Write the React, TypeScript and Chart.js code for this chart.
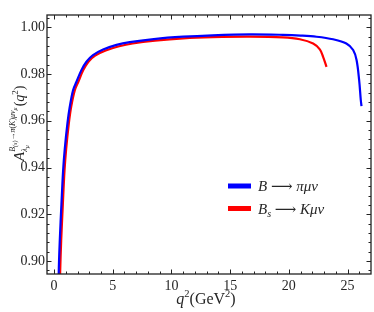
import React, { useEffect, useRef } from "react";
import { Chart, registerables } from "chart.js";
Chart.register(...registerables);

// B -> pi mu nu
const qBpi = [0.30, 0.40, 0.49, 0.63, 0.77, 0.91, 1.14, 1.34, 1.62, 1.91, 2.33, 2.76, 3.32, 4.18, 5.32, 6.45, 8.5, 11.0, 13.5, 16.67, 19.5, 21.0, 22.36, 23.77, 24.9, 25.48, 25.77, 25.99, 26.13, 26.19];
const aBpi = [0.855, 0.895, 0.9089, 0.9243, 0.9385, 0.9478, 0.9589, 0.966, 0.9731, 0.9767, 0.9817, 0.9853, 0.9881, 0.9905, 0.9925, 0.9937, 0.995, 0.996, 0.9966, 0.997, 0.9968, 0.9965, 0.996, 0.9949, 0.9931, 0.9903, 0.986, 0.9774, 0.9689, 0.9663];
// Bs -> K mu nu
const qBsK = [0.42, 0.52, 0.61, 0.75, 0.89, 1.03, 1.26, 1.46, 1.77, 2.07, 2.49, 2.93, 3.5, 4.4, 5.55, 6.7, 8.6, 11.0, 13.5, 16.67, 19.5, 20.94, 22.07, 22.64, 22.92, 23.21];
const aBsK = [0.87, 0.895, 0.9089, 0.9243, 0.9385, 0.9478, 0.9589, 0.966, 0.9731, 0.9767, 0.9817, 0.9853, 0.9879, 0.9901, 0.9919, 0.9931, 0.9943, 0.9953, 0.9958, 0.996, 0.9957, 0.9949, 0.9931, 0.9906, 0.9874, 0.9831];

const xTicks = [0, 5, 10, 15, 20, 25];
const yTicks = [0.90, 0.92, 0.94, 0.96, 0.98, 1.00];
const legendLabels = ["B → πμν", "Bs → Kμν"];
const colors = ["#0000ff", "#ff0000"];

const FAMILY = "'Liberation Serif', 'DejaVu Serif', serif";
const TEXT = "#262626";

type Piece = { t: string; size: number; italic?: boolean; dy?: number };

function drawPieces(ctx: CanvasRenderingContext2D, pieces: Piece[], x0: number, base: number): number {
  let x = x0;
  for (const p of pieces) {
    ctx.font = `${p.italic ? "italic " : ""}${p.size}px ${FAMILY}`;
    ctx.fillText(p.t, x, base + (p.dy || 0));
    x += ctx.measureText(p.t).width;
  }
  return x;
}
function widthPieces(ctx: CanvasRenderingContext2D, pieces: Piece[]): number {
  let w = 0;
  for (const p of pieces) {
    ctx.font = `${p.italic ? "italic " : ""}${p.size}px ${FAMILY}`;
    w += ctx.measureText(p.t).width;
  }
  return w;
}

const framePlugin = {
  id: "frame",
  afterDraw(chart: any) {
    const { ctx, chartArea, scales } = chart;
    const { left, right, top, bottom } = chartArea;
    const xs = scales.x;
    const ys = scales.y;
    ctx.save();
    ctx.strokeStyle = "#222";
    ctx.lineWidth = 1.3;
    ctx.strokeRect(left, top, right - left, bottom - top);
    ctx.lineWidth = 1;
    ctx.beginPath();
    for (let k = 0; k <= 26; k++) {
      const px = Math.round(xs.getPixelForValue(k)) + 0.5;
      if (px <= left + 1 || px >= right - 1) continue;
      const len = k % 5 === 0 ? 4.5 : 2.5;
      ctx.moveTo(px, bottom);
      ctx.lineTo(px, bottom - len);
      ctx.moveTo(px, top);
      ctx.lineTo(px, top + len);
    }
    for (let k = 224; k <= 251; k++) {
      const v = k * 0.004;
      const py = Math.round(ys.getPixelForValue(v)) + 0.5;
      if (py <= top + 1 || py >= bottom - 1) continue;
      const len = k % 5 === 0 ? 4.5 : 2.5;
      ctx.moveTo(left, py);
      ctx.lineTo(left + len, py);
      ctx.moveTo(right, py);
      ctx.lineTo(right - len, py);
    }
    ctx.stroke();

    ctx.fillStyle = TEXT;
    ctx.textBaseline = "alphabetic";
    ctx.textAlign = "left";

    // x title
    const xt: Piece[] = [
      { t: "q", size: 16, italic: true },
      { t: "2", size: 10.5, dy: -7 },
      { t: "(GeV", size: 16 },
      { t: "2", size: 10.5, dy: -7 },
      { t: ")", size: 16 },
    ];
    const xw = widthPieces(ctx, xt);
    drawPieces(ctx, xt, 206 - xw / 2, 304);

    // y title (rotated)
    ctx.save();
    ctx.translate(24, 161);
    ctx.rotate(-Math.PI / 2);
    let lx = drawPieces(ctx, [{ t: "A", size: 15, italic: true }], 0, 0);
    drawPieces(ctx, [
      { t: "λ", size: 8, italic: true, dy: 3 },
      { t: "μ", size: 6, italic: true, dy: 5 },
    ], lx, 0);
    lx = drawPieces(ctx, [
      { t: "B", size: 8, italic: true, dy: -9 },
      { t: "(s)", size: 6, italic: true, dy: -7.5 },
      { t: "→", size: 8, dy: -9 },
      { t: "π", size: 8, italic: true, dy: -9 },
      { t: "(", size: 8, dy: -9 },
      { t: "K", size: 8, italic: true, dy: -9 },
      { t: ")", size: 8, dy: -9 },
      { t: "μν", size: 8, italic: true, dy: -9 },
      { t: "μ", size: 6, italic: true, dy: -7.5 },
    ], lx, 0);
    drawPieces(ctx, [
      { t: "(", size: 14 },
      { t: "q", size: 14, italic: true },
      { t: "2", size: 9, dy: -6 },
      { t: ")", size: 14 },
    ], lx + 1, 0);
    ctx.restore();

    // legend
    const rows: Piece[][] = [
      [
        { t: "B", size: 15, italic: true },
        { t: " ⟶ ", size: 15 },
        { t: "πμν", size: 15, italic: true },
      ],
      [
        { t: "B", size: 15, italic: true },
        { t: "s", size: 10, italic: true, dy: 3 },
        { t: " ⟶ ", size: 15 },
        { t: "Kμν", size: 15, italic: true },
      ],
    ];
    rows.forEach((r, i) => {
      const cy = 186 + i * 22.5;
      ctx.fillStyle = colors[i];
      ctx.fillRect(228, cy - 2.5, 23, 5);
      ctx.fillStyle = TEXT;
      drawPieces(ctx, r, 258, cy + 5);
    });
    ctx.restore();
  },
};

export default function App() {
  const ref = useRef<HTMLCanvasElement | null>(null);
  useEffect(() => {
    if (!ref.current) return;
    const chart = new Chart(ref.current, {
      type: "line",
      data: {
        datasets: [
          {
            label: legendLabels[0],
            data: qBpi.map((q, i) => ({ x: q, y: aBpi[i] })),
            borderColor: colors[0],
            backgroundColor: colors[0],
            borderWidth: 2.2,
            order: 0,
          },
          {
            label: legendLabels[1],
            data: qBsK.map((q, i) => ({ x: q, y: aBsK[i] })),
            borderColor: colors[1],
            backgroundColor: colors[1],
            borderWidth: 2.2,
            order: 1,
          },
        ],
      },
      options: {
        animation: false,
        responsive: false,
        devicePixelRatio: 1,
        layout: { padding: { top: 15, right: 3, left: 0, bottom: 0 } },
        plugins: { legend: { display: false }, tooltip: { enabled: false } },
        elements: {
          point: { radius: 0 },
          line: { tension: 0.35 },
        },
        scales: {
          x: {
            type: "linear",
            min: -0.6,
            max: 27.0,
            grid: { display: false, drawTicks: false },
            border: { display: false },
            ticks: {
              padding: 4,
              autoSkip: false,
              maxRotation: 0,
              color: TEXT,
              font: { family: FAMILY, size: 14 },
              callback: (v: any) => String(v),
            },
            afterBuildTicks: (s: any) => {
              s.ticks = xTicks.map((v) => ({ value: v }));
            },
            afterFit: (s: any) => {
              s.height = 38;
            },
          },
          y: {
            type: "linear",
            min: 0.8944,
            max: 1.0053,
            grid: { display: false, drawTicks: false },
            border: { display: false },
            ticks: {
              padding: 2,
              autoSkip: false,
              color: TEXT,
              font: { family: FAMILY, size: 14 },
              callback: (v: any) => Number(v).toFixed(2),
            },
            afterBuildTicks: (s: any) => {
              s.ticks = yTicks.map((v) => ({ value: v }));
            },
            afterFit: (s: any) => {
              s.width = 47;
            },
          },
        },
      } as any,
      plugins: [framePlugin],
    });
    return () => chart.destroy();
  }, []);
  return (
    <div style={{ position: "absolute", left: 0, top: 0, width: 374, height: 312 }}>
      <canvas ref={ref} width={374} height={312} />
    </div>
  );
}
